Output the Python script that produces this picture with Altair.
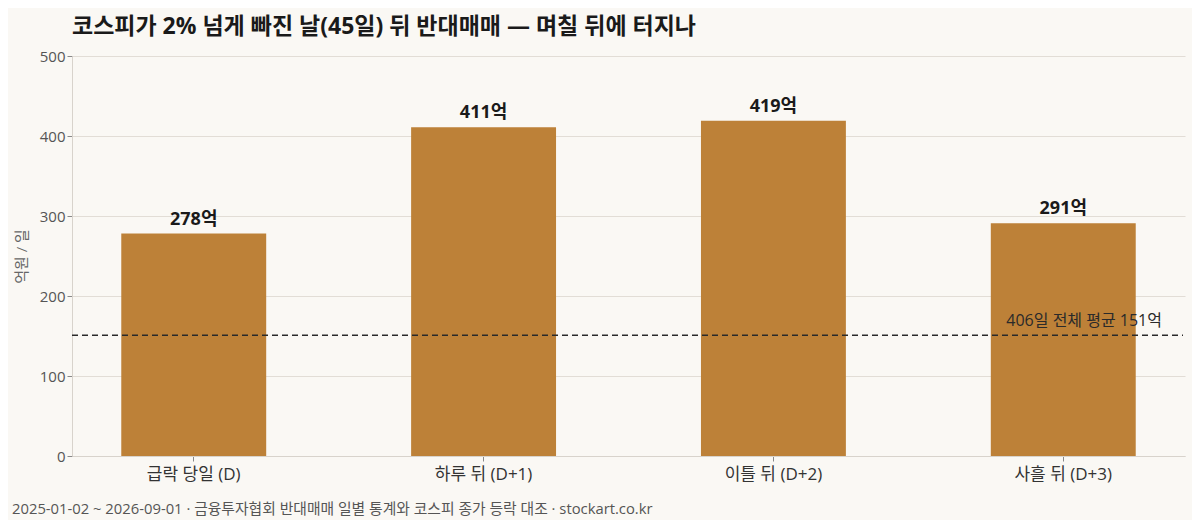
import altair as alt
import pandas as pd

# values
days = ['급락 당일 (D)', '하루 뒤 (D+1)', '이틀 뒤 (D+2)', '사흘 뒤 (D+3)']
volume = [278, 411, 419, 291]          # 억원 / 일
avg_all = 151                           # 406일 전체 평균
avg_label = '406일 전체 평균 151억'
footer = '2025-01-02 ~ 2026-09-01 · 금융투자협회 반대매매 일별 통계와 코스피 종가 등락 대조 · stockart.co.kr'

df = pd.DataFrame({'day': days, 'value': volume})
df['label'] = df['value'].astype(str) + '억'
avg = pd.DataFrame({'value': [avg_all], 'label': [avg_label]})

FONT = 'Open Sans, Noto Sans CJK KR, sans-serif'
W, H = 1113, 400

x = alt.X('day:N', sort=days, title=None,
          scale=alt.Scale(paddingInner=0.5, paddingOuter=0.17),
          axis=alt.Axis(labelAngle=0, labelFontSize=17, labelColor='#333',
                        labelPadding=5, tickColor='#888', tickSize=5,
                        domainColor='#d8d3cc'))
y = alt.Y('value:Q', title='억원 / 일',
          scale=alt.Scale(domain=[0, 500]),
          axis=alt.Axis(values=[0, 100, 200, 300, 400, 500], labelFontSize=15,
                        labelColor='#555', titleColor='#666', titleFontSize=15,
                        titleFontWeight='normal', titlePadding=10,
                        tickColor='#888', tickSize=5, domainColor='#d8d3cc',
                        gridColor='#e2ddd6'))

bars = alt.Chart(df).mark_bar(color='#bd8138').encode(x=x, y=y)

labels = alt.Chart(df).mark_text(
    baseline='bottom', dy=-5, fontSize=18, fontWeight='bold', color='#1a1a1a', font=FONT
).encode(x=alt.X('day:N', sort=days), y='value:Q', text='label:N')

rule = alt.Chart(avg).mark_rule(
    color='#2a2a2a', strokeDash=[6, 4], strokeWidth=1.5
).encode(y='value:Q', x=alt.value(0), x2=alt.value(W - 2))

rule_text = alt.Chart(avg).mark_text(
    align='right', baseline='bottom', dy=-6, fontSize=16, color='#2a2a2a', font=FONT
).encode(y='value:Q', x=alt.value(1090), text='label:N')

foot = alt.Chart(pd.DataFrame({'t': [footer]})).mark_text(
    align='left', baseline='middle', fontSize=14.8, color='#555', font=FONT
).encode(x=alt.value(-60), y=alt.value(454), text='t:N')

chart = (
    alt.layer(bars, labels, rule, rule_text, foot)
    .properties(
        width=W, height=H,
        autosize=alt.AutoSizeParams(type='none'),
        padding={'left': 64, 'top': 48, 'right': 7, 'bottom': 64},
        background='#faf8f4',
        title=alt.TitleParams(
            '코스피가 2% 넘게 빠진 날(45일) 뒤 반대매매 — 며칠 뒤에 터지나',
            anchor='start', frame='group', fontSize=23, fontWeight='bold',
            color='#1a1a1a', font=FONT, offset=10),
    )
    .configure_view(stroke=None)
    .configure_axis(labelFont=FONT, titleFont=FONT)
)

chart.save('out.html', embed_options={'renderer': 'svg', 'actions': False})
